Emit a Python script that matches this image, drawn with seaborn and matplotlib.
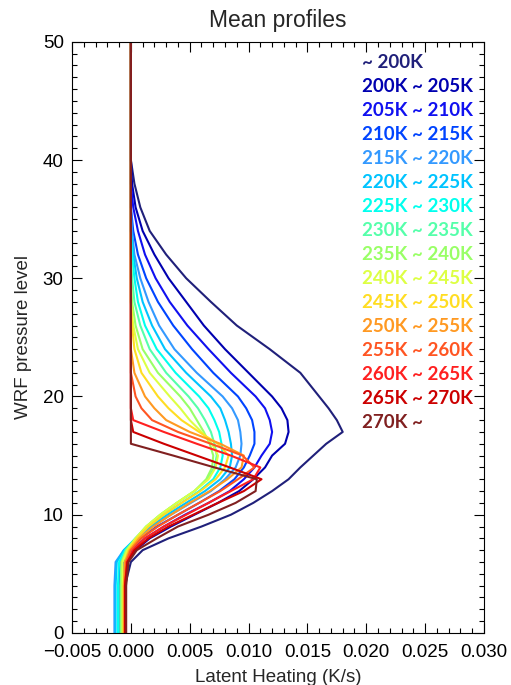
import numpy as np
import pandas as pd
import matplotlib
matplotlib.use("Agg")
import matplotlib.pyplot as plt
import matplotlib.ticker as mticker
import seaborn as sns

# WRF pressure levels at which the profiles are read
levels = [0, 4, 6, 7, 8, 9, 10, 11, 12, 13, 14, 15, 16, 17, 18, 19, 20,
          22, 24, 26, 28, 30, 32, 34, 36, 38, 40, 50]

# brightness temperature bins
bands = ["~ 200K", "200K ~ 205K", "205K ~ 210K", "210K ~ 215K", "215K ~ 220K",
         "220K ~ 225K", "225K ~ 230K", "230K ~ 235K", "235K ~ 240K", "240K ~ 245K",
         "245K ~ 250K", "250K ~ 255K", "255K ~ 260K", "260K ~ 265K", "265K ~ 270K",
         "270K ~"]

colors = ["#20207a", "#0000b0", "#1010f0", "#0044ff", "#3399ff", "#00c4ff",
          "#00ffee", "#55ffaa", "#99ff66", "#ddff44", "#ffdd22", "#ff9922",
          "#ff5522", "#ff2020", "#cc0000", "#802020"]

# latent heating, 1e-3 K/s, one list per band (same order as levels)
lh_b00 = [-0.5, -0.5, 0.0, 1.0, 3.2, 6.0, 8.5, 10.4, 12.0, 13.4, 14.4, 15.5, 16.6, 18.0,
          17.5, 16.8, 16.0, 14.4, 11.8, 9.0, 6.8, 4.7, 3.0, 1.6, 0.8, 0.3, 0.0, 0.0]
lh_b01 = [-0.7, -0.7, -0.4, 0.4, 1.6, 3.4, 5.4, 7.4, 9.2, 10.4, 11.4, 12.0, 13.1, 13.4,
          13.3, 12.8, 12.0, 10.0, 8.0, 6.2, 4.7, 3.2, 2.0, 1.0, 0.4, 0.1, 0.0, 0.0]
lh_b02 = [-0.8, -0.8, -0.6, 0.1, 1.2, 2.8, 4.6, 6.6, 8.4, 9.6, 10.5, 11.1, 11.8, 12.0,
          11.8, 11.4, 10.6, 8.5, 6.6, 4.8, 3.3, 2.1, 1.2, 0.6, 0.2, 0.0, 0.0, 0.0]
lh_b03 = [-1.0, -1.0, -0.9, -0.2, 0.8, 2.2, 4.0, 5.8, 7.5, 8.8, 9.6, 10.1, 10.5, 10.5,
          10.3, 9.8, 9.1, 7.0, 5.2, 3.6, 2.3, 1.3, 0.6, 0.2, 0.0, 0.0, 0.0, 0.0]
lh_b04 = [-1.4, -1.4, -1.3, -0.6, 0.5, 1.8, 3.4, 5.1, 6.8, 8.0, 8.9, 9.3, 9.4, 9.3,
          9.1, 8.6, 7.8, 5.6, 3.7, 2.4, 1.5, 0.8, 0.3, 0.1, 0.0, 0.0, 0.0, 0.0]
lh_b05 = [-1.3, -1.3, -1.2, -0.6, 0.4, 1.6, 3.1, 4.7, 6.3, 7.6, 8.4, 8.6, 8.5, 8.3,
          8.0, 7.6, 6.8, 4.7, 2.9, 1.8, 1.0, 0.5, 0.2, 0.0, 0.0, 0.0, 0.0, 0.0]
lh_b06 = [-1.1, -1.1, -1.0, -0.5, 0.4, 1.4, 2.8, 4.3, 5.8, 7.0, 7.6, 7.8, 7.7, 7.5,
          7.1, 6.6, 5.8, 3.8, 2.2, 1.2, 0.6, 0.3, 0.1, 0.0, 0.0, 0.0, 0.0, 0.0]
lh_b07 = [-0.9, -0.9, -0.8, -0.4, 0.4, 1.3, 2.5, 3.9, 5.4, 6.5, 7.1, 7.3, 7.1, 6.8,
          6.3, 5.7, 4.9, 3.0, 1.6, 0.8, 0.3, 0.1, 0.0, 0.0, 0.0, 0.0, 0.0, 0.0]
lh_b08 = [-0.8, -0.8, -0.8, -0.4, 0.4, 1.3, 2.5, 3.9, 5.4, 6.4, 6.9, 7.0, 6.7, 6.2,
          5.6, 5.0, 4.2, 2.3, 1.0, 0.4, 0.1, 0.0, 0.0, 0.0, 0.0, 0.0, 0.0, 0.0]
lh_b09 = [-0.7, -0.7, -0.7, -0.3, 0.4, 1.3, 2.5, 3.9, 5.4, 6.6, 7.2, 7.4, 6.9, 6.0,
          5.0, 4.2, 3.3, 1.6, 0.6, 0.2, 0.0, 0.0, 0.0, 0.0, 0.0, 0.0, 0.0, 0.0]
lh_b10 = [-0.6, -0.6, -0.5, -0.2, 0.5, 1.5, 2.8, 4.3, 5.9, 7.2, 8.0, 8.3, 7.4, 5.8,
          4.3, 3.2, 2.3, 0.9, 0.3, 0.1, 0.0, 0.0, 0.0, 0.0, 0.0, 0.0, 0.0, 0.0]
lh_b11 = [-0.6, -0.6, -0.5, -0.1, 0.7, 1.9, 3.4, 5.0, 6.7, 8.2, 9.4, 9.6, 7.6, 5.0,
          3.0, 2.0, 1.2, 0.3, 0.0, 0.0, 0.0, 0.0, 0.0, 0.0, 0.0, 0.0, 0.0, 0.0]
lh_b12 = [-0.5, -0.5, -0.4, 0.0, 0.9, 2.3, 4.0, 5.8, 7.6, 9.1, 10.5, 9.5, 6.8, 4.0,
          1.8, 0.9, 0.4, 0.0, 0.0, 0.0, 0.0, 0.0, 0.0, 0.0, 0.0, 0.0, 0.0, 0.0]
lh_b13 = [-0.5, -0.5, -0.3, 0.2, 1.2, 2.8, 4.7, 6.6, 8.5, 10.4, 11.0, 8.5, 5.6, 2.8,
          0.2, 0.0, 0.0, 0.0, 0.0, 0.0, 0.0, 0.0, 0.0, 0.0, 0.0, 0.0, 0.0, 0.0]
lh_b14 = [-0.5, -0.5, -0.3, 0.3, 1.5, 3.2, 5.3, 7.4, 9.6, 11.1, 8.4, 5.6, 2.8, 0.2,
          0.0, 0.0, 0.0, 0.0, 0.0, 0.0, 0.0, 0.0, 0.0, 0.0, 0.0, 0.0, 0.0, 0.0]
lh_b15 = [-0.4, -0.4, -0.2, 0.5, 2.2, 4.0, 6.6, 8.9, 10.6, 10.7, 7.1, 3.6, 0.0, 0.0,
          0.0, 0.0, 0.0, 0.0, 0.0, 0.0, 0.0, 0.0, 0.0, 0.0, 0.0, 0.0, 0.0, 0.0]

profiles = [lh_b00, lh_b01, lh_b02, lh_b03, lh_b04, lh_b05, lh_b06, lh_b07,
            lh_b08, lh_b09, lh_b10, lh_b11, lh_b12, lh_b13, lh_b14, lh_b15]

rows = []
for band, prof in zip(bands, profiles):
    for lev, val in zip(levels, prof):
        rows.append((band, lev, val * 1e-3))
df = pd.DataFrame(rows, columns=["band", "level", "heating"])

sns.set_style("ticks")
plt.rcParams["font.family"] = ["Liberation Sans", "DejaVu Sans"]

fig = plt.figure(figsize=(5.11, 6.85), dpi=100)
ax = fig.add_axes([0.141, 0.076, 0.806, 0.863])

sns.lineplot(data=df, x="heating", y="level", hue="band", hue_order=bands,
             palette=colors, sort=False, estimator=None, orient="y",
             linewidth=1.5, legend=False, ax=ax)

ax.set_xlim(-0.005, 0.030)
ax.set_ylim(0, 50)
ax.xaxis.set_major_locator(mticker.MultipleLocator(0.005))
ax.xaxis.set_minor_locator(mticker.MultipleLocator(0.001))
ax.yaxis.set_major_locator(mticker.MultipleLocator(10))
ax.yaxis.set_minor_locator(mticker.MultipleLocator(1))
ax.xaxis.set_major_formatter(mticker.FuncFormatter(
    lambda v, p: ("%.3f" % v).replace("-", "\u2212")))
ax.tick_params(which="both", direction="in", top=True, right=True,
               labelsize=13.5, width=0.8, colors="black")
ax.tick_params(axis="x", which="major", pad=8)
ax.tick_params(axis="y", which="major", pad=6)
ax.tick_params(which="major", length=7)
ax.tick_params(which="minor", length=3.5)
for sp in ax.spines.values():
    sp.set_linewidth(0.8)
    sp.set_color("black")

ax.set_xlabel("Latent Heating (K/s)", fontsize=13.5, labelpad=6)
ax.set_ylabel("WRF pressure level", fontsize=13.5, labelpad=8)
ax.set_title("Mean profiles", fontsize=16.5, pad=11)

# coloured band labels on the right
for i, (band, c) in enumerate(zip(bands, colors)):
    ax.text(0.704, 0.9645 - i * 0.0406, band, transform=ax.transAxes,
            color=c, fontsize=13.5, fontweight="bold", family="Lato",
            ha="left", va="center")

fig.savefig("out.png", dpi=100)
